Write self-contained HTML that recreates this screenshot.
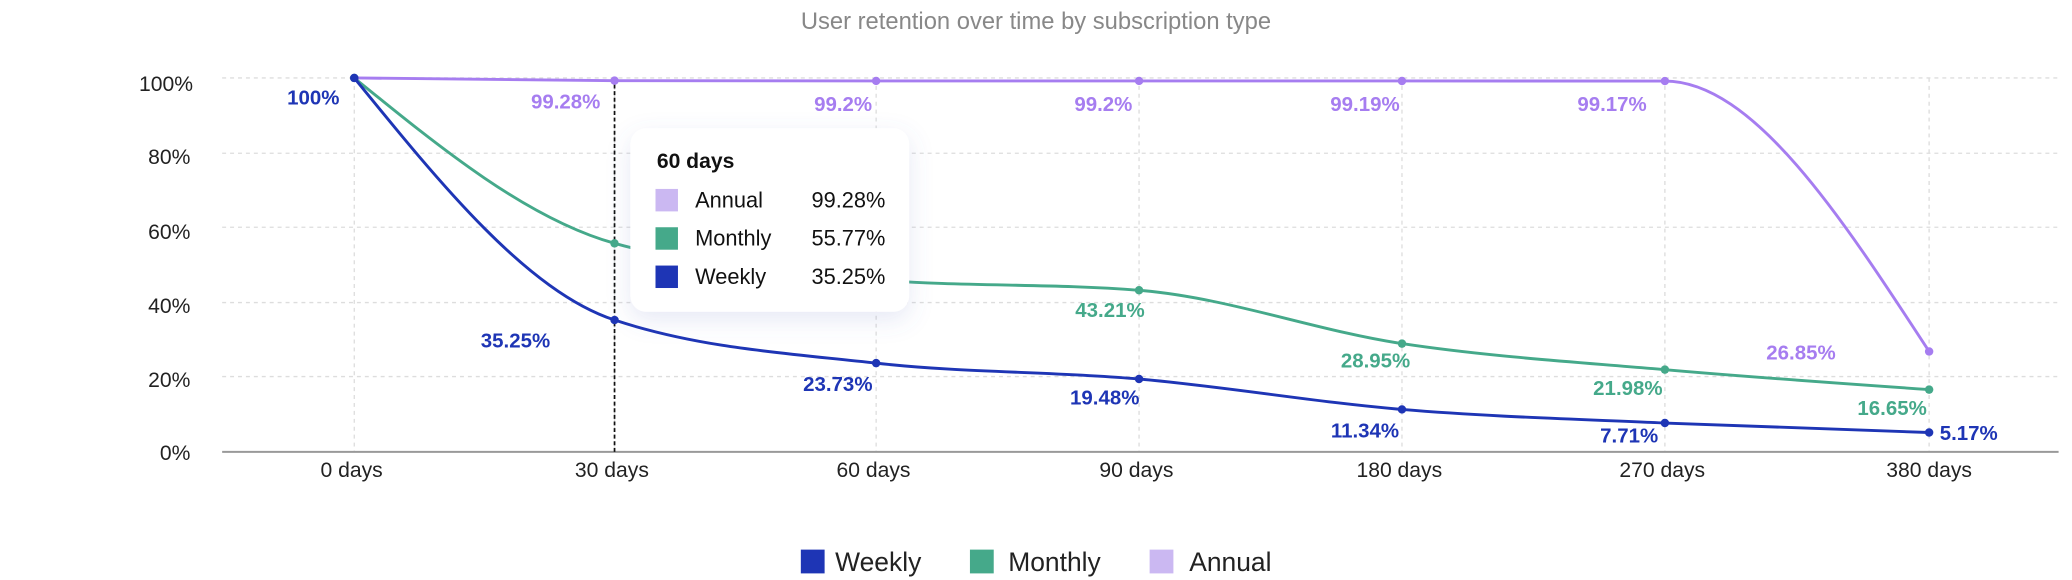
<!DOCTYPE html>
<html><head><meta charset="utf-8"><style>
html,body{margin:0;padding:0;background:#fff;}
svg{display:block;font-family:"Liberation Sans",sans-serif;}
</style></head><body>
<svg id="s" width="2072" height="580" viewBox="0 0 1568 439" xmlns="http://www.w3.org/2000/svg">
<defs><filter id="sh" x="-30%" y="-30%" width="160%" height="170%"><feDropShadow dx="0" dy="6" stdDeviation="9" flood-color="#6070c0" flood-opacity="0.16"/></filter></defs>
<text x="784" y="22" text-anchor="middle" font-size="18" fill="#888">User retention over time by subscription type</text>
<g id="grid" stroke="#ddd" stroke-width="1" stroke-dasharray="3,3"></g>
<g font-size="16" fill="#222" text-anchor="end">
<text x="146" y="69">100%</text><text x="144" y="124">80%</text><text x="144" y="181">60%</text>
<text x="144" y="237">40%</text><text x="144" y="293">20%</text><text x="144" y="348">0%</text>
</g>
<line x1="168" y1="342" x2="1558" y2="342" stroke="#999" stroke-width="1.5"/>
<g font-size="16" fill="#222" text-anchor="middle">
<text x="266" y="361">0 days</text><text x="463" y="361">30 days</text><text x="661" y="361">60 days</text>
<text x="860" y="361">90 days</text><text x="1059" y="361">180 days</text><text x="1258" y="361">270 days</text><text x="1460" y="361">380 days</text>
</g>
<line x1="465" y1="59" x2="465" y2="342" stroke="#111" stroke-width="1.3" stroke-dasharray="3,2"/>
<g id="lines"></g>
<g font-size="15.5" font-weight="bold" text-anchor="middle">
<g fill="#1e35b5"><text x="237" y="79">100%</text><text x="390" y="263">35.25%</text><text x="634" y="296">23.73%</text><text x="836" y="306">19.48%</text><text x="1033" y="331">11.34%</text><text x="1233" y="335">7.71%</text><text x="1490" y="333">5.17%</text></g>
<g fill="#a67df0"><text x="428" y="82">99.28%</text><text x="638" y="84">99.2%</text><text x="835" y="84">99.2%</text><text x="1033" y="84">99.19%</text><text x="1220" y="84">99.17%</text><text x="1363" y="272">26.85%</text></g>
<g fill="#45a98a"><text x="840" y="240">43.21%</text><text x="1041" y="278">28.95%</text><text x="1232" y="299">21.98%</text><text x="1432" y="314">16.65%</text></g>
</g>
<rect x="477" y="97" width="211" height="139" rx="12" fill="#fff" filter="url(#sh)"/>
<text x="497" y="127" font-size="16" font-weight="bold" fill="#111">60 days</text>
<g font-size="16.5" fill="#111">
<rect x="496" y="143" width="17" height="17" fill="#cbb8f2"/><text x="526" y="157">Annual</text><text x="670" y="157" text-anchor="end">99.28%</text>
<rect x="496" y="172" width="17" height="17" fill="#45a98a"/><text x="526" y="186">Monthly</text><text x="670" y="186" text-anchor="end">55.77%</text>
<rect x="496" y="201" width="17" height="17" fill="#1e35b5"/><text x="526" y="215">Weekly</text><text x="670" y="215" text-anchor="end">35.25%</text>
</g>
<g font-size="20" fill="#222">
<rect x="606" y="416" width="18" height="18" fill="#1e35b5"/><text x="632" y="432">Weekly</text>
<rect x="734" y="416" width="18" height="18" fill="#45a98a"/><text x="763" y="432">Monthly</text>
<rect x="870" y="416" width="18" height="18" fill="#cbb8f2"/><text x="900" y="432">Annual</text>
</g>
</svg>
<script>
var NS="http://www.w3.org/2000/svg";
var X=[268,465,663,862,1061,1260,1460];
function Y(v){return 342-2.83*v;}
var g=document.getElementById("grid");
[59,116,172,229,285].forEach(function(y){var l=document.createElementNS(NS,"line");l.setAttribute("x1",168);l.setAttribute("x2",1558);l.setAttribute("y1",y);l.setAttribute("y2",y);g.appendChild(l);});
X.forEach(function(x){var l=document.createElementNS(NS,"line");l.setAttribute("x1",x);l.setAttribute("x2",x);l.setAttribute("y1",59);l.setAttribute("y2",342);g.appendChild(l);});
function mono(xs,ys){var n=xs.length,d=[],m=[];for(var i=0;i<n-1;i++)d.push((ys[i+1]-ys[i])/(xs[i+1]-xs[i]));
for(var i=0;i<n;i++){if(i==0)m.push(d[0]);else if(i==n-1)m.push(d[n-2]);else{if(d[i-1]*d[i]<=0)m.push(0);else{var h0=xs[i]-xs[i-1],h1=xs[i+1]-xs[i];var p=(d[i-1]*h1+d[i]*h0)/(h0+h1);m.push((Math.sign(d[i-1])+Math.sign(d[i]))*Math.min(Math.abs(d[i-1]),Math.abs(d[i]),0.5*Math.abs(p)));}}}
m[0]=(3*d[0]-m[1])/2; m[n-1]=(3*d[n-2]-m[n-2])/2;
var s="M"+xs[0]+","+ys[0];for(var i=0;i<n-1;i++){var h=(xs[i+1]-xs[i])/3;s+="C"+(xs[i]+h)+","+(ys[i]+m[i]*h)+","+(xs[i+1]-h)+","+(ys[i+1]-m[i+1]*h)+","+xs[i+1]+","+ys[i+1];}return s;}
var L=document.getElementById("lines");
[["#a67df0",[100,99.28,99.2,99.2,99.19,99.17,26.85]],["#45a98a",[100,55.77,46,43.21,28.95,21.98,16.65]],["#1e35b5",[100,35.25,23.73,19.48,11.34,7.71,5.17]]].forEach(function(s){
var ys=s[1].map(Y);var p=document.createElementNS(NS,"path");p.setAttribute("d",mono(X,ys));p.setAttribute("fill","none");p.setAttribute("stroke",s[0]);p.setAttribute("stroke-width","2.2");L.appendChild(p);
ys.forEach(function(y,i){var c=document.createElementNS(NS,"circle");c.setAttribute("cx",X[i]);c.setAttribute("cy",y);c.setAttribute("r",3.2);c.setAttribute("fill",s[0]);L.appendChild(c);});});
</script>
</body></html>
